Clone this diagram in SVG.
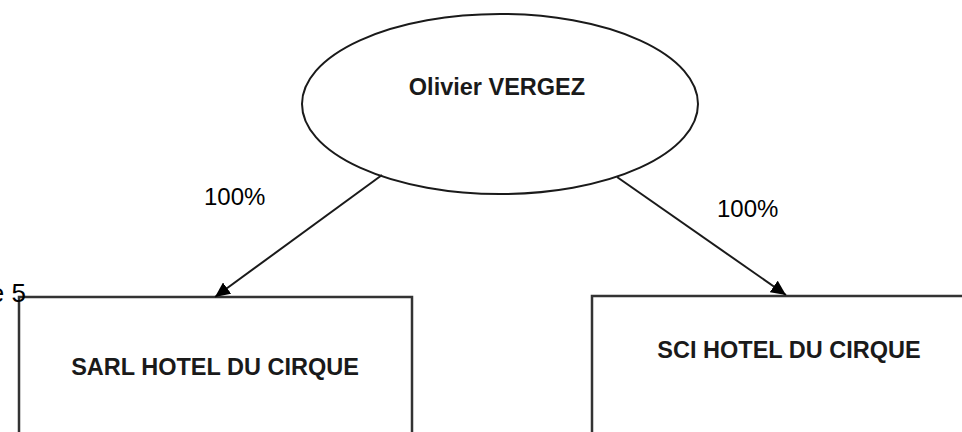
<svg xmlns="http://www.w3.org/2000/svg" width="962" height="432" viewBox="0 0 962 432">
<style>
.box{fill:#fff;stroke:#333;stroke-width:2.5}
.ell{fill:#fff;stroke:#1a1a1a;stroke-width:2}
.lbl{font-family:"Liberation Sans",Arial,sans-serif;font-weight:bold;font-size:23.5px;fill:#1a1a1a;text-anchor:middle}
.pct{font-family:"Liberation Sans",Arial,sans-serif;font-size:24px;fill:#000}
.edge{stroke:#1a1a1a;stroke-width:2;fill:none}
</style>
<defs>
<marker id="arr" markerUnits="userSpaceOnUse" markerWidth="16" markerHeight="14" refX="15" refY="7" orient="auto">
<path d="M0,0 L15,7 L0,14 Z" fill="#000"/>
</marker>
</defs>
<rect width="962" height="432" fill="#fff"/>
<g id="sarl">
<rect class="box" x="19" y="297" width="393" height="150"/>
<text class="lbl" x="215" y="375">SARL HOTEL DU CIRQUE</text>
</g>
<g id="sci">
<rect class="box" x="592" y="296" width="390" height="150"/>
<text class="lbl" x="789" y="358">SCI HOTEL DU CIRQUE</text>
</g>
<g id="olivier">
<ellipse class="ell" cx="500" cy="104" rx="198" ry="90"/>
<text class="lbl" x="497" y="95">Olivier VERGEZ</text>
</g>
<g id="connectors">
<path class="edge" d="M382,175 L215,297" marker-end="url(#arr)"/>
<path class="edge" d="M617,177 L786,295" marker-end="url(#arr)"/>
<text class="pct" x="204" y="205">100%</text>
<text class="pct" x="717" y="217">100%</text>
</g>
<text style="font-family:'Liberation Sans',Arial,sans-serif;font-size:26px;fill:#000" x="26" y="302" text-anchor="end">e 5</text>
</svg>
